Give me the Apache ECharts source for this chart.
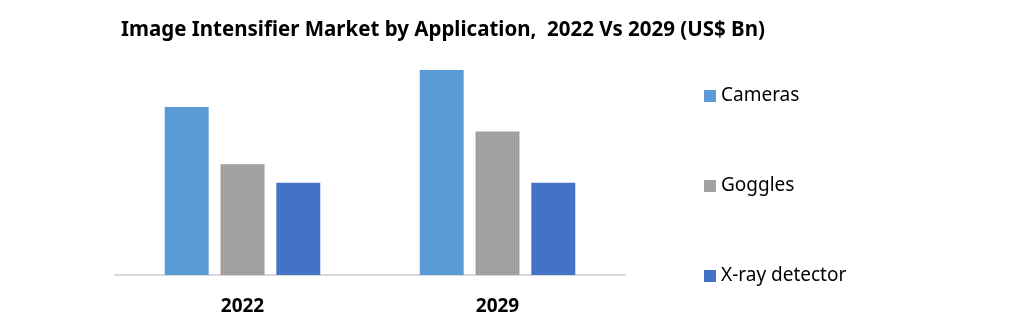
<!DOCTYPE html>
<html><head><meta charset="utf-8">
<script src="https://cdn.jsdelivr.net/npm/echarts@6/dist/echarts.min.js"></script>
<style>html,body{margin:0;padding:0;background:#fff}#c{width:1010px;height:322px}</style>
</head><body><div id="c"></div>
<script>
const categories = ['2022', '2029'];
const seriesNames = ['Cameras', 'Goggles', 'X-ray detector'];
const cameras = [0.82, 1.00];
const goggles = [0.54, 0.70];
const xray = [0.45, 0.45];
const colors = ['#5b9bd5', '#a5a5a5', '#4472c4'];

const chart = echarts.init(document.getElementById('c'));
const dataSets = [cameras, goggles, xray];
chart.setOption({
  animation: false,
  title: {
    text: 'Image Intensifier Market by Application,  2022 Vs 2029 (US$ Bn)',
    left: 116, top: 15,
    textStyle: { fontFamily: 'Noto Sans', fontWeight: 'bold', fontSize: 20.5, color: '#000' }
  },
  legend: {
    orient: 'vertical', left: 699, top: 81,
    itemWidth: 12, itemHeight: 12, itemGap: 70,
    icon: 'rect',
    textStyle: { fontFamily: 'Noto Sans', fontSize: 19, color: '#000', lineHeight: 20, padding: [0,0,0,0] },
    data: seriesNames
  },
  grid: { left: 115, right: 385, top: 29, bottom: 47 },
  xAxis: {
    type: 'category', data: categories,
    axisLine: { lineStyle: { color: '#d9d9d9', width: 2 } },
    axisTick: { show: false },
    axisLabel: { fontFamily: 'Noto Sans', fontWeight: 'bold', fontSize: 19, color: '#000', margin: 22 }
  },
  yAxis: { type: 'value', min: 0, max: 1.2, show: false, splitLine: { show: false } },
  series: dataSets.map((d, i) => {
    const itemStyle = { color: colors[i] };
    if (i === 1) {
      itemStyle.decal = { symbol: 'rect', symbolSize: 1, dashArrayX: [1, 1], dashArrayY: [1, 1], color: 'rgba(120,120,120,0.35)', rotation: 0 };
    }
    return {
      name: seriesNames[i], type: 'bar', data: d,
      barGap: '27%', barCategoryGap: '39%',
      itemStyle
    };
  })
});
</script></body></html>
